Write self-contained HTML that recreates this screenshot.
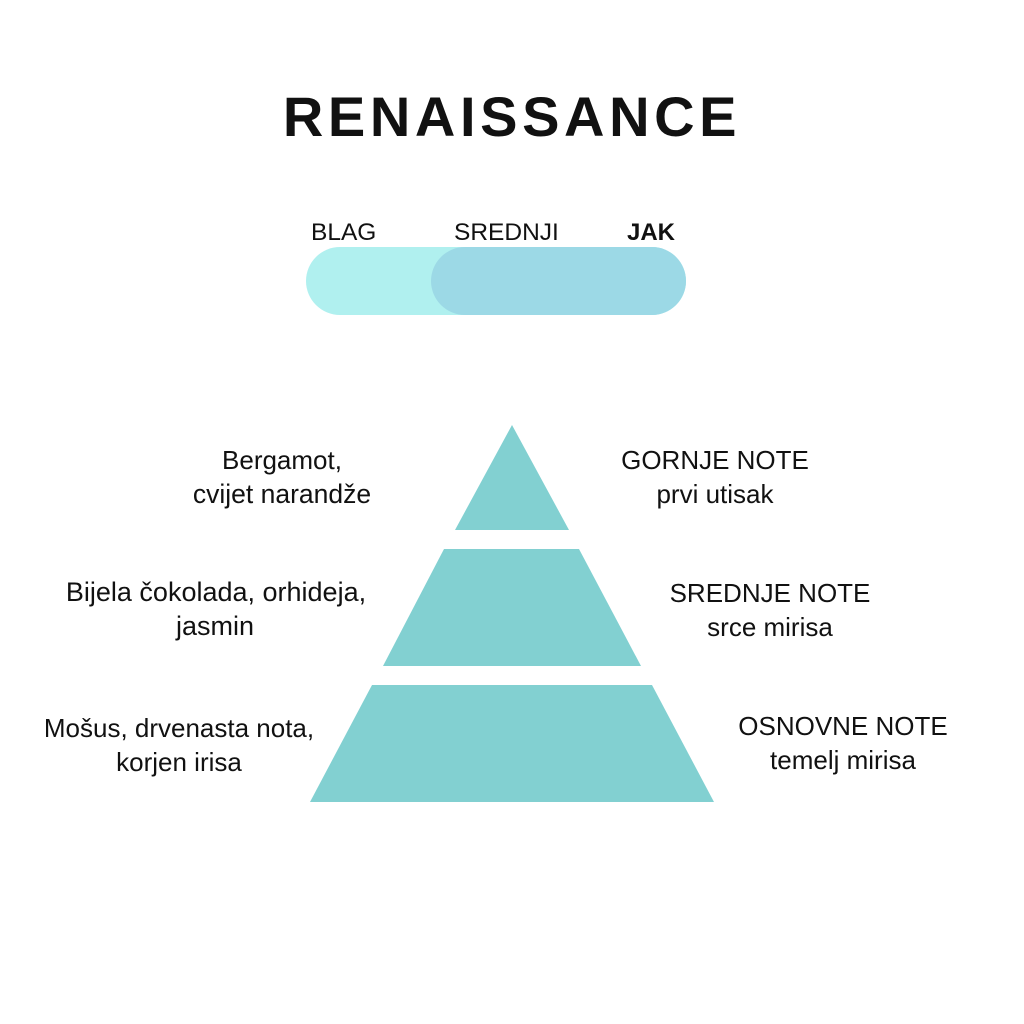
<!DOCTYPE html>
<html><head><meta charset="utf-8"><style>
body{margin:0;width:1024px;height:1024px;background:#fff;position:relative;font-family:"Liberation Sans",sans-serif;color:#111;overflow:hidden}
.t{position:absolute;font-size:26px;line-height:34px;white-space:nowrap;text-align:center}
</style></head><body>
<div style="position:absolute;left:0;width:1024px;top:82px;text-align:center;font-size:56px;font-weight:bold;letter-spacing:4.6px;line-height:70px">RENAISSANCE</div>
<div class="t" style="left:311px;top:216px;font-size:24.5px">BLAG</div>
<div class="t" style="left:454px;top:216px;font-size:24.5px">SREDNJI</div>
<div class="t" style="left:627px;top:216px;font-size:24px;font-weight:bold">JAK</div>
<div style="position:absolute;left:306px;top:247px;width:380px;height:68px;border-radius:34px;background:#b0f0ef"></div>
<div style="position:absolute;left:431px;top:247px;width:255px;height:68px;border-radius:34px;background:#9cd9e6"></div>
<svg style="position:absolute;left:0;top:0" width="1024" height="1024">
<g fill="#82d0d1">
<polygon points="512,425 569,530 455,530"/>
<polygon points="444,549 579,549 641,666 383,666"/>
<polygon points="372,685 652,685 714,802 310,802"/>
</g></svg>
<div class="t" style="left:162px;width:240px;top:443px">Bergamot,</div>
<div class="t" style="left:162px;width:240px;top:477px;font-size:26.5px">cvijet narandže</div>
<div class="t" style="left:595px;width:240px;top:443px">GORNJE NOTE<br>prvi utisak</div>
<div class="t" style="left:36px;width:360px;top:575px;font-size:27px">Bijela čokolada, orhideja,</div>
<div class="t" style="left:176px;top:609px;font-size:27px;text-align:left">jasmin</div>
<div class="t" style="left:645px;width:250px;top:576px">SREDNJE NOTE<br>srce mirisa</div>
<div class="t" style="left:19px;width:320px;top:711px">Mošus, drvenasta nota,<br>korjen irisa</div>
<div class="t" style="left:718px;width:250px;top:709px">OSNOVNE NOTE<br>temelj mirisa</div>
</body></html>
